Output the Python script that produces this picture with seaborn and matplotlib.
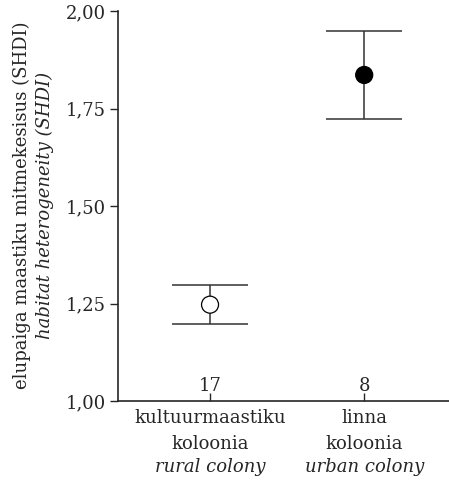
import matplotlib
matplotlib.use("Agg")
import matplotlib.pyplot as plt
import seaborn as sns
import pandas as pd

# summary values
groups = ["rural", "urban"]
group_labels = ["kultuurmaastiku", "linna"]
group_labels2 = ["koloonia", "koloonia"]
group_labels_en = ["rural colony", "urban colony"]
means = [1.247, 1.836]
lower = [1.197, 1.723]
upper = [1.297, 1.949]
n_obs = [17, 8]
fills = ["white", "black"]
yticks = [1.00, 1.25, 1.50, 1.75, 2.00]

df = pd.DataFrame({"group": groups, "mean": means, "lo": lower, "hi": upper})
df["x"] = range(len(df))

sns.set_style("ticks")
plt.rcParams["font.family"] = ["DejaVu Serif"]
fs = 13

fig = plt.figure(figsize=(4.49, 4.82), dpi=100)
ax = fig.add_axes([118 / 449, 1 - 401 / 482, 331 / 449, 390 / 482])

err = [df["mean"] - df["lo"], df["hi"] - df["mean"]]
ax.errorbar(df["x"], df["mean"], yerr=err, fmt="none", ecolor="#333333",
            elinewidth=1.1, capsize=27.5, capthick=1.1, zorder=1)
sns.scatterplot(data=df, x="x", y="mean", ax=ax, s=150, c=fills,
                edgecolor="black", linewidth=0.9, zorder=3, legend=False)

ax.set_xlim(-0.597, 1.55)
ax.set_ylim(1.0, 2.0)
ax.set_yticks(yticks)
ax.set_yticklabels([f"{v:.2f}".replace(".", ",") for v in yticks], fontsize=fs)
ax.set_xticks(df["x"])
ax.set_xticklabels([""] * len(df))
ax.tick_params(axis="y", direction="out", length=6, width=1, pad=3)
ax.tick_params(axis="x", direction="in", length=6, width=1)
for s in ["left", "bottom"]:
    ax.spines[s].set_linewidth(1.2)
sns.despine(ax=ax)
ax.set_xlabel("")
ax.set_ylabel("")

# sample sizes above the axis
for x, n in zip(df["x"], n_obs):
    ax.text(x, 1.015, str(n), ha="center", va="bottom", fontsize=fs)

# category labels, estonian upright plus english italic
for x, l1, l2, l3 in zip(df["x"], group_labels, group_labels2, group_labels_en):
    for txt, off, st in [(l1, -12.5, "normal"), (l2, -31, "normal"), (l3, -47.5, "italic")]:
        ax.annotate(txt, xy=(x, 0), xycoords=("data", "axes fraction"),
                    xytext=(0, off), textcoords="offset points",
                    ha="center", va="center", fontsize=fs, style=st)

ymid = 1 - 205 / 482
fig.text(22 / 449, ymid, "elupaiga maastiku mitmekesisus (SHDI)",
         rotation=90, ha="center", va="center", fontsize=fs)
fig.text(45 / 449, ymid, "habitat heterogeneity (SHDI)",
         rotation=90, ha="center", va="center", fontsize=fs, style="italic")

fig.savefig("out.png", dpi=100)
